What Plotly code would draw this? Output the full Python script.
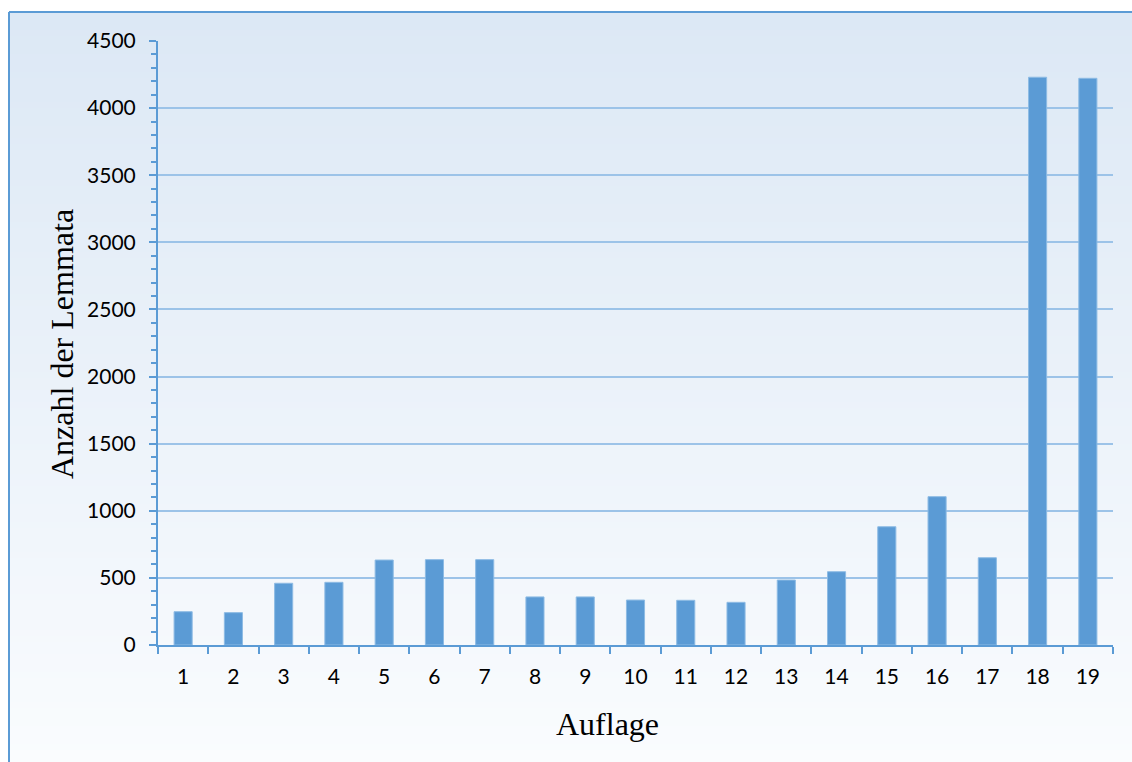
import plotly.graph_objects as go

# Auflagen (editions) and number of lemmata per edition
auflagen = [str(i) for i in range(1, 20)]
lemmata = [248, 241, 460, 467, 633, 636, 636, 358, 358, 335, 333, 318,
           484, 546, 881, 1105, 650, 4230, 4222]

y_ticks = [0, 500, 1000, 1500, 2000, 2500, 3000, 3500, 4000, 4500]

W, H = 1132, 762
L, R, T, B = 158, 19, 41, 117
PW, PH = W - L - R, H - T - B


def px_x(p):
    return (p - L) / PW


def px_y(p):
    return (H - B - p) / PH


BLUE = "#5b9bd5"

shapes = []
# vertical gradient background (light blue at top to near white at bottom)
top_rgb = (220, 232, 245)
bot_rgb = (250, 252, 254)
band = 6
y = 12
while y < H:
    t = (y - 12) / (H - 12)
    c = tuple(round(a + (b - a) * t) for a, b in zip(top_rgb, bot_rgb))
    shapes.append(dict(type="rect", xref="paper", yref="paper",
                       x0=px_x(9), x1=px_x(W + 2), y0=px_y(y + band + 1), y1=px_y(y),
                       fillcolor="rgb(%d,%d,%d)" % c, line=dict(width=0),
                       layer="below"))
    y += band

# chart frame
shapes.append(dict(type="line", xref="paper", yref="paper",
                   x0=px_x(9), x1=px_x(W + 5), y0=px_y(12), y1=px_y(12),
                   line=dict(color=BLUE, width=2), layer="below"))
shapes.append(dict(type="line", xref="paper", yref="paper",
                   x0=px_x(9), x1=px_x(9), y0=px_y(12), y1=px_y(H + 5),
                   line=dict(color=BLUE, width=2), layer="below"))

# axis titles
title_font = dict(family="Liberation Serif", size=32, color="black")
annotations = [
    dict(text="Auflage", xref="paper", yref="paper",
         x=px_x(607), y=px_y(724), showarrow=False,
         xanchor="center", yanchor="middle", font=title_font),
    dict(text="Anzahl der Lemmata", xref="paper", yref="paper",
         x=px_x(62), y=px_y(344), showarrow=False, textangle=-90,
         xanchor="center", yanchor="middle", font=title_font),
]

fig = go.Figure()
fig.add_trace(go.Bar(
    x=auflagen, y=lemmata,
    marker=dict(color=BLUE, line=dict(color="#8dbbe4", width=1)),
))

fig.update_layout(
    width=W, height=H,
    margin=dict(l=L, r=R, t=T, b=B),
    paper_bgcolor="white",
    plot_bgcolor="rgba(0,0,0,0)",
    shapes=shapes,
    annotations=annotations,
    bargap=0.64,
    showlegend=False,
    font=dict(family="Lato", size=21, color="black"),
)

fig.update_xaxes(
    type="category",
    tickson="boundaries",
    ticks="outside", ticklen=7, tickwidth=2, tickcolor=BLUE,
    showline=True, linecolor=BLUE, linewidth=2,
    showgrid=False,
    tickfont=dict(family="Lato", size=21),
    ticklabelstandoff=12,
)

fig.update_yaxes(
    range=[0, 4500],
    tickvals=y_ticks,
    ticks="outside", ticklen=7, tickwidth=2, tickcolor=BLUE,
    showline=True, linecolor=BLUE, linewidth=2,
    showgrid=True, gridcolor="#9cc3e8", gridwidth=1.5,
    zeroline=False,
    minor=dict(dtick=100, ticks="outside", ticklen=5, tickwidth=2,
               tickcolor=BLUE, showgrid=False),
    tickfont=dict(family="Lato", size=21),
    ticklabelstandoff=9,
)

fig.write_html("out.html")
